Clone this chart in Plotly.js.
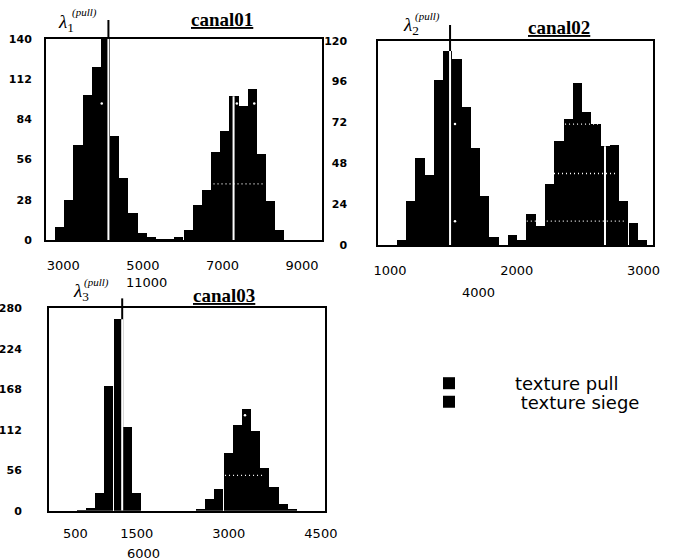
<!DOCTYPE html>
<html><head><meta charset="utf-8">
<script src="https://cdn.plot.ly/plotly-3.0.1.min.js"></script>
<style>html,body{margin:0;padding:0;background:#fff}#chart{width:674px;height:560px}</style>
</head><body><div id="chart"></div>
<script>
// ---------------- data ----------------
const seriesNames = ['texture pull', 'texture siege'];
const panelTitles = ['canal01', 'canal02', 'canal03'];

// canal01 histogram (bin centres, counts)
const c1PullX  = [2906, 3137, 3367, 3598, 3829, 4060, 4290, 4521, 4752, 4982, 5213, 5444, 5674];
const c1PullY  = [9, 28, 66, 101, 120, 140, 72, 43, 19, 5, 2, 1, 1];
const c1SiegeX = [5905, 6136, 6367, 6597, 6828, 7059, 7289, 7520, 7751, 7981, 8212, 8443];
const c1SiegeY = [2, 7, 24, 35, 61, 76, 100, 93, 105, 60, 27, 7];
const c1Lambda = 4133;          // lambda_1 (pull)
const c1SiegeMark = 7279;
const c1OverlapX = [6775, 8075];
const c1OverlapY = [39, 39];
const c1SpotX = [3965, 7362, 7799];
const c1SpotY = [95, 95, 95];
const c1XTicks = [3000, 5000, 7000, 9000];
const c1YTicks = [0, 28, 56, 84, 112, 140];

// canal02
const c2PullX  = [1090, 1163, 1236, 1309, 1382, 1456, 1529, 1602, 1675, 1748, 1821];
const c2PullY  = [3, 26, 51, 41, 97, 114, 109, 81, 57, 29, 4.5];
const c2SiegeX = [1967, 2040, 2113, 2187, 2260, 2333, 2406, 2479, 2552, 2625, 2698, 2771, 2844, 2918, 2991];
const c2SiegeY = [5.7, 3, 18, 11, 36, 61, 74, 95, 78, 71, 58, 59, 26, 13, 3];
const c2Lambda = 1474;          // lambda_2 (pull)
const c2SiegeMark = 2696;
const c2OverlapAX = [2381, 2641]; const c2OverlapAY = [71, 71];
const c2OverlapBX = [2294, 2782]; const c2OverlapBY = [42, 42];
const c2OverlapCX = [2079, 2867]; const c2OverlapCY = [14, 14];
const c2SpotX = [1513, 1513];
const c2SpotY = [71, 14];
const c2XTicks = [1000, 2000, 3000];
const c2YTicks = [0, 24, 48, 72, 96, 120];
const c2Extra = '4000';

// canal03
const c3PullX  = [597, 747, 896, 1045, 1195, 1344, 1494];
const c3PullY  = [1, 4, 25, 172, 265, 116, 25];
const c3SiegeX = [2540, 2689, 2838, 2988, 3137, 3287, 3436, 3585, 3735, 3884, 4034];
const c3SiegeY = [3, 16, 30, 80, 118, 140, 110, 59, 33, 9, 3];
const c3Lambda = 1262;          // lambda_3 (pull)
const c3OverlapX = [2938, 3590];
const c3OverlapY = [49, 49];
const c3SpotX = [3263];
const c3SpotY = [132];
const c3XTicks = [500, 1500, 3000, 4500];
const c3YTicks = [0, 56, 112, 168, 224, 280];
const c3Extra = ['11000', '6000'];

// ---------------- helpers ----------------
const W = 674, H = 560;
const px = v => v / W;
const py = v => 1 - v / H;
function heightAt(xs, ys, xv) {
  let best = 0;
  xs.forEach((x, i) => { if (Math.abs(x - xv) < Math.abs(xs[best] - xv)) best = i; });
  return ys[best];
}
const BLACK = '#000';
function bars(x, y, name, xa, ya, legend, show) {
  return {type: 'bar', x, y, name, xaxis: xa, yaxis: ya, legend,
    showlegend: show, marker: {color: BLACK, line: {width: 0}}, hoverinfo: 'skip'};
}
function dotted(x, y, xa, ya) {
  return {type: 'scatter', mode: 'lines', x, y, xaxis: xa, yaxis: ya, showlegend: false,
    line: {color: '#fff', width: 1.3, dash: '1px,3px'}, hoverinfo: 'skip'};
}
function spots(x, y, xa, ya) {
  return {type: 'scatter', mode: 'markers', x, y, xaxis: xa, yaxis: ya, showlegend: false,
    marker: {color: '#fff', size: 2.5}, hoverinfo: 'skip'};
}

const traces = [
  bars(c1PullX, c1PullY, seriesNames[0], 'x', 'y', 'legend', true),
  bars(c1SiegeX, c1SiegeY, '\u00a0' + seriesNames[1], 'x', 'y', 'legend2', true),
  dotted(c1OverlapX, c1OverlapY, 'x', 'y'),
  spots(c1SpotX, c1SpotY, 'x', 'y'),

  bars(c2PullX, c2PullY, seriesNames[0], 'x2', 'y2', 'legend', false),
  bars(c2SiegeX, c2SiegeY, seriesNames[1], 'x2', 'y2', 'legend2', false),
  dotted(c2OverlapAX, c2OverlapAY, 'x2', 'y2'),
  dotted(c2OverlapBX, c2OverlapBY, 'x2', 'y2'),
  dotted(c2OverlapCX, c2OverlapCY, 'x2', 'y2'),
  spots(c2SpotX, c2SpotY, 'x2', 'y2'),

  bars(c3PullX, c3PullY, seriesNames[0], 'x3', 'y3', 'legend', false),
  bars(c3SiegeX, c3SiegeY, seriesNames[1], 'x3', 'y3', 'legend2', false),
  dotted(c3OverlapX, c3OverlapY, 'x3', 'y3'),
  spots(c3SpotX, c3SpotY, 'x3', 'y3')
];

const xFont = {family: 'DejaVu Sans', size: 13, color: BLACK};
const yFont = {family: 'DejaVu Sans', size: 11, color: BLACK, weight: 'bold'};
const axBase = {showline: true, mirror: true, linecolor: BLACK, linewidth: 2, ticks: '',
  showgrid: false, zeroline: false, fixedrange: true};

function xAxis(dom, range, ticks, anchor, standoff) {
  return Object.assign({}, axBase, {domain: dom, range, anchor, tickmode: 'array',
    tickvals: ticks, ticktext: ticks.map(String), tickfont: xFont, ticklabelstandoff: standoff});
}
function yAxis(dom, ticks, anchor, standoff) {
  return Object.assign({}, axBase, {domain: dom, range: [0, ticks[ticks.length - 1]], anchor,
    tickmode: 'array', tickvals: ticks, ticktext: ticks.map(String), tickfont: yFont,
    ticklabelstandoff: standoff});
}

function lambdaShapes(xref, yref, xv, topExt, barH) {
  return [
    {type: 'line', xref, yref: yref + ' domain', x0: xv, x1: xv, y0: 0, y1: topExt,
      line: {color: BLACK, width: 2}, layer: 'above'},
    {type: 'line', xref, yref, x0: xv, x1: xv, y0: 0, y1: barH,
      line: {color: '#fff', width: 2}, layer: 'above'}
  ];
}
function whiteMark(xref, yref, xv, barH) {
  return {type: 'line', xref, yref, x0: xv, x1: xv, y0: 0, y1: barH,
    line: {color: '#fff', width: 2}, layer: 'above'};
}

const shapes = [].concat(
  lambdaShapes('x', 'y', c1Lambda, 1.093, heightAt(c1PullX, c1PullY, c1Lambda)),
  [whiteMark('x', 'y', c1SiegeMark, heightAt(c1SiegeX, c1SiegeY, c1SiegeMark))],
  lambdaShapes('x2', 'y2', c2Lambda, 1.077, heightAt(c2PullX, c2PullY, c2Lambda)),
  [whiteMark('x2', 'y2', c2SiegeMark, heightAt(c2SiegeX, c2SiegeY, c2SiegeMark))],
  lambdaShapes('x3', 'y3', c3Lambda, 1.049, heightAt(c3PullX, c3PullY, c3Lambda))
);

const serif = 'Liberation Serif';
function title(text, x, y) {
  return {text: '<b><u>' + text + '</u></b>', xref: 'paper', yref: 'paper', x: px(x), y: py(y),
    xanchor: 'center', yanchor: 'middle', showarrow: false, font: {family: serif, size: 19, color: BLACK}};
}
function lam(idx, x, y) {
  return {text: '<i>\u03bb</i><sub>' + idx + '</sub>', xref: 'paper', yref: 'paper', x: px(x), y: py(y),
    xanchor: 'left', yanchor: 'middle', showarrow: false, font: {family: serif, size: 19, color: BLACK}};
}
function sup(x, y) {
  return {text: '<i>(pull)</i>', xref: 'paper', yref: 'paper', x: px(x), y: py(y),
    xanchor: 'left', yanchor: 'middle', showarrow: false, font: {family: serif, size: 11, color: BLACK}};
}
function plain(text, x, y, anchor) {
  return {text, xref: 'paper', yref: 'paper', x: px(x), y: py(y), xanchor: anchor, yanchor: 'middle',
    showarrow: false, font: xFont};
}

const annotations = [
  title(panelTitles[0], 222, 20), title(panelTitles[1], 559, 27), title(panelTitles[2], 224, 295),
  lam(1, 56, 23), sup(70, 12),
  lam(2, 401, 26), sup(413, 16),
  lam(3, 71, 292), sup(82, 282),
  plain(c3Extra[0], 124, 282, 'left'),
  plain(c2Extra, 479, 292, 'center'),
  plain(c3Extra[1], 143, 553, 'center')
];

const legendBase = {xanchor: 'left', yanchor: 'middle', itemwidth: 122, bgcolor: 'rgba(0,0,0,0)',
  borderwidth: 0, font: {family: 'DejaVu Sans', size: 18, color: BLACK}, itemclick: false, itemdoubleclick: false};

const layout = {
  width: W, height: H, margin: {l: 0, r: 0, t: 0, b: 0},
  paper_bgcolor: '#fff', plot_bgcolor: '#fff',
  barmode: 'overlay', bargap: 0, hovermode: false, showlegend: true,
  xaxis:  xAxis([px(46), px(322)], [2564, 9502], c1XTicks, 'y', 12),
  yaxis:  yAxis([py(240), py(38.7)], c1YTicks, 'x', 10),
  xaxis2: xAxis([px(378.3), px(653.3)], [908, 3077], c2XTicks, 'y2', 12),
  yaxis2: yAxis([py(245), py(40.7)], c2YTicks, 'x2', 27),
  xaxis3: xAxis([px(49), px(325)], [69, 4567], c3XTicks, 'y3', 10),
  yaxis3: yAxis([py(510.7), py(308.3)], c3YTicks, 'x3', 23),
  legend:  Object.assign({}, legendBase, {x: px(383), y: py(383.5)}),
  legend2: Object.assign({}, legendBase, {x: px(383), y: py(402)}),
  shapes, annotations,
  font: {family: 'DejaVu Sans', color: BLACK}
};

Plotly.newPlot('chart', traces, layout, {displayModeBar: false, staticPlot: true});
</script></body></html>
